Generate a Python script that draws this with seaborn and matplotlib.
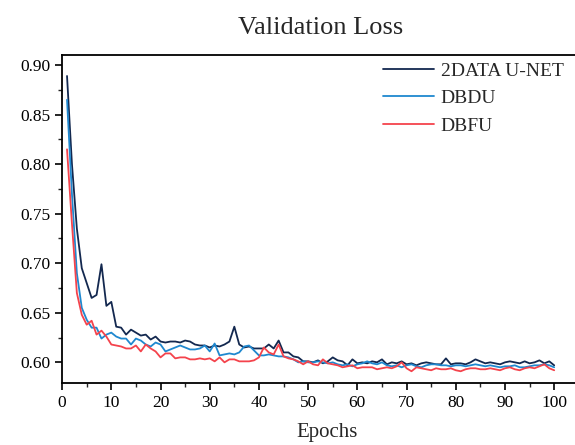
import numpy as np
import pandas as pd
import matplotlib
matplotlib.use("Agg")
import matplotlib.pyplot as plt
import seaborn as sns
from matplotlib.ticker import MultipleLocator

series_names = ["2DATA U-NET", "DBDU", "DBFU"]
epochs = list(range(1, 101))

unet_loss = [
    0.889, 0.800, 0.735, 0.695, 0.680, 0.665, 0.668, 0.699, 0.657, 0.661,
    0.636, 0.635, 0.628, 0.633, 0.630, 0.627, 0.628, 0.623, 0.626, 0.621,
    0.620, 0.621, 0.621, 0.620, 0.622, 0.621, 0.618, 0.617, 0.617, 0.615,
    0.617, 0.616, 0.618, 0.621, 0.636, 0.618, 0.615, 0.616, 0.614, 0.614,
    0.614, 0.618, 0.614, 0.622, 0.610, 0.610, 0.606, 0.605, 0.601, 0.601,
    0.600, 0.602, 0.599, 0.601, 0.605, 0.602, 0.601, 0.597, 0.603, 0.599,
    0.600, 0.599, 0.601, 0.600, 0.603, 0.598, 0.600, 0.599, 0.601, 0.598,
    0.599, 0.597, 0.599, 0.600, 0.599, 0.598, 0.598, 0.604, 0.598, 0.599,
    0.599, 0.598, 0.600, 0.603, 0.601, 0.599, 0.600, 0.599, 0.598, 0.600,
    0.601, 0.600, 0.599, 0.601, 0.599, 0.600, 0.602, 0.599, 0.601, 0.597,
]
dbdu_loss = [
    0.865, 0.770, 0.690, 0.655, 0.643, 0.635, 0.635, 0.624, 0.628, 0.630,
    0.626, 0.624, 0.624, 0.618, 0.624, 0.622, 0.618, 0.616, 0.620, 0.618,
    0.611, 0.613, 0.615, 0.617, 0.615, 0.613, 0.613, 0.614, 0.617, 0.611,
    0.619, 0.607, 0.608, 0.609, 0.608, 0.610, 0.616, 0.617, 0.612, 0.607,
    0.607, 0.608, 0.607, 0.606, 0.606, 0.605, 0.603, 0.600, 0.601, 0.600,
    0.600, 0.601, 0.600, 0.599, 0.600, 0.598, 0.597, 0.598, 0.596, 0.598,
    0.599, 0.601, 0.599, 0.598, 0.600, 0.597, 0.596, 0.597, 0.595, 0.597,
    0.598, 0.596, 0.595, 0.597, 0.598, 0.598, 0.597, 0.597, 0.596, 0.597,
    0.597, 0.596, 0.597, 0.598, 0.597, 0.596, 0.597, 0.596, 0.595, 0.596,
    0.596, 0.597, 0.595, 0.595, 0.596, 0.597, 0.597, 0.598, 0.597, 0.595,
]
dbfu_loss = [
    0.815, 0.740, 0.670, 0.648, 0.638, 0.642, 0.628, 0.632, 0.626, 0.618,
    0.617, 0.616, 0.614, 0.614, 0.617, 0.611, 0.618, 0.614, 0.611, 0.605,
    0.609, 0.609, 0.604, 0.605, 0.605, 0.603, 0.603, 0.604, 0.603, 0.604,
    0.601, 0.605, 0.600, 0.603, 0.603, 0.601, 0.601, 0.601, 0.602, 0.605,
    0.615, 0.610, 0.608, 0.618, 0.606, 0.604, 0.603, 0.601, 0.598, 0.601,
    0.598, 0.597, 0.603, 0.599, 0.598, 0.597, 0.595, 0.596, 0.597, 0.594,
    0.595, 0.595, 0.595, 0.593, 0.594, 0.595, 0.594, 0.596, 0.600, 0.594,
    0.591, 0.595, 0.594, 0.593, 0.592, 0.594, 0.593, 0.593, 0.594, 0.592,
    0.591, 0.593, 0.594, 0.594, 0.593, 0.593, 0.594, 0.593, 0.592, 0.594,
    0.595, 0.593, 0.592, 0.594, 0.595, 0.594, 0.596, 0.598, 0.594, 0.592,
]
colors = ["#13284f", "#1f88cf", "#f4434c"]

x_ticks = [0, 10, 20, 30, 40, 50, 60, 70, 80, 90, 100]
y_ticks = [0.60, 0.65, 0.70, 0.75, 0.80, 0.85, 0.90]

df = pd.concat([
    pd.DataFrame({"Epochs": epochs, "Loss": vals, "Model": name})
    for name, vals in zip(series_names, [unet_loss, dbdu_loss, dbfu_loss])
])

sns.set_theme(style="ticks")
plt.rcParams["font.family"] = ["Liberation Serif", "DejaVu Serif"]

fig = plt.figure(figsize=(5.75, 4.45), dpi=100)
ax = fig.add_axes([0.108, 0.139, 0.92, 0.737])

sns.lineplot(data=df, x="Epochs", y="Loss", hue="Model",
             palette=dict(zip(series_names, colors)), linewidth=1.3, ax=ax)

ax.set_xlim(0, 107.5)
ax.set_ylim(0.579, 0.910)
ax.set_xticks(x_ticks)
ax.set_yticks(y_ticks)
ax.set_yticklabels([f"{v:.2f}" for v in y_ticks])
ax.xaxis.set_minor_locator(MultipleLocator(5))
ax.yaxis.set_minor_locator(MultipleLocator(0.025))
ax.tick_params(which="major", direction="out", length=5, width=1.2, labelsize=12.5, colors="black")
ax.tick_params(which="minor", direction="out", length=3, width=1.0)
for s in ax.spines.values():
    s.set_linewidth(1.3)
    s.set_color("black")

ax.set_xlabel("Epochs", fontsize=15, labelpad=9)
ax.set_ylabel("")
fig.text(0.558, 0.937, "Validation Loss", ha="center", va="center", fontsize=19)

leg = ax.legend(loc="upper left", bbox_to_anchor=(0.666, 0.860), bbox_transform=fig.transFigure,
                frameon=False, fontsize=14, handlelength=2.6, handletextpad=0.36,
                labelspacing=0.5, borderpad=0, borderaxespad=0, title=None)

fig.savefig("out.png", dpi=100)
